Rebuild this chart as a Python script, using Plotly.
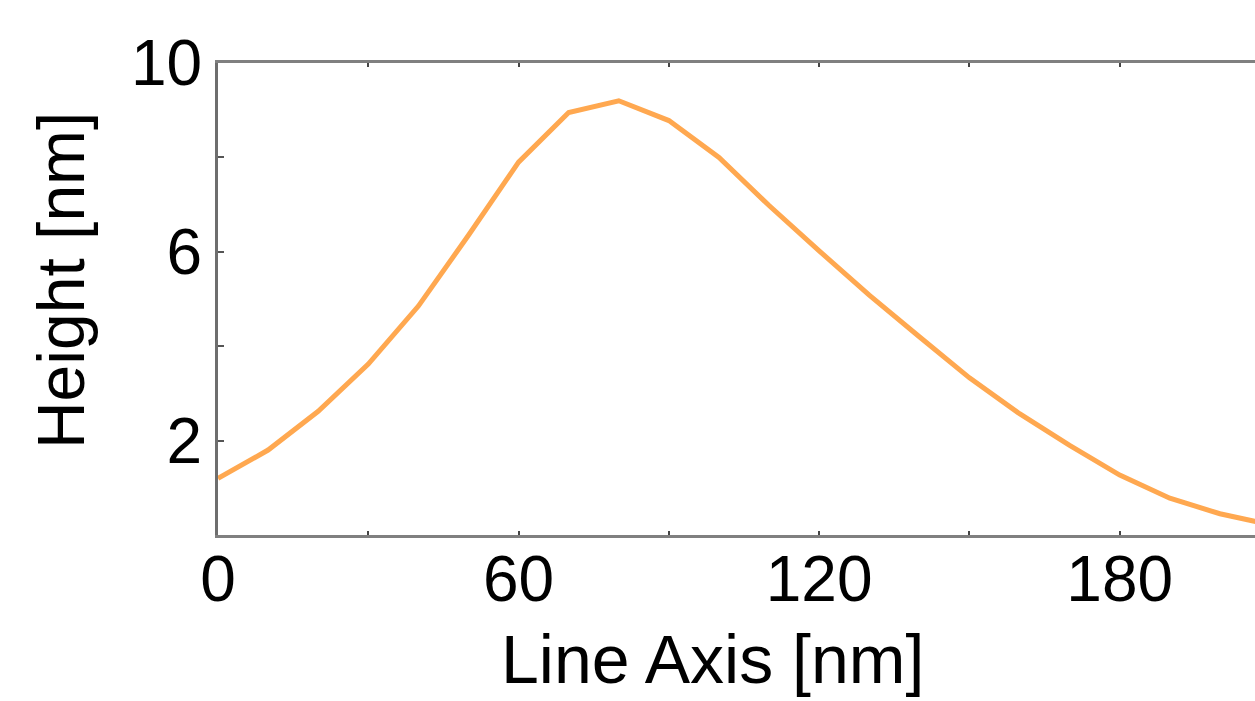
import plotly.graph_objects as go

x_nm = [0, 10, 20, 30, 40, 50, 60, 70, 80, 90, 100, 110, 120, 130, 140, 150, 160, 170, 180, 190, 200, 210]
height_nm = [1.2, 1.8, 2.62, 3.62, 4.85, 6.35, 7.9, 8.95, 9.2, 8.78, 8.0, 6.98, 6.02, 5.08, 4.2, 3.33, 2.57, 1.9, 1.27, 0.78, 0.45, 0.22]

x_tickvals = [0, 30, 60, 90, 120, 150, 180, 210]
x_ticktext = ["0", "", "60", "", "120", "", "180", ""]
y_tickvals = [0, 2, 4, 6, 8, 10]
y_ticktext = ["", "2", "", "6", "", "10"]

fig = go.Figure()
fig.add_trace(go.Scatter(x=x_nm, y=height_nm, mode="lines",
                         line=dict(color="#FFA850", width=5), showlegend=False))

font = "Liberation Sans, Arial, sans-serif"
fig.update_layout(
    width=1255, height=701,
    margin=dict(l=218, r=0, t=63, b=166),
    paper_bgcolor="white", plot_bgcolor="white",
    xaxis=dict(range=[0, 207], tickvals=x_tickvals, ticktext=x_ticktext,
               ticks="inside", ticklen=4, tickwidth=2, tickcolor="#444",
               showline=True, linecolor="#808080", linewidth=2.5, mirror="ticks",
               showgrid=False, zeroline=False, ticklabelstandoff=-14,
               tickfont=dict(family=font, size=64, color="black")),
    yaxis=dict(range=[0, 10], tickvals=y_tickvals, ticktext=y_ticktext,
               ticks="inside", ticklen=6, tickwidth=1.5, tickcolor="#555",
               showline=True, linecolor="#6e6e6e", linewidth=3,
               showgrid=False, zeroline=False,
               tickfont=dict(family=font, size=64, color="black")),
    annotations=[
        dict(text="Line Axis [nm]", xref="paper", yref="paper", x=0.477, y=0,
             xanchor="center", yanchor="middle", yshift=-124, showarrow=False,
             font=dict(family=font, size=68, color="black")),
        dict(text="Height [nm]", xref="paper", yref="paper", x=0, y=0.538,
             xanchor="center", yanchor="middle", xshift=-157, textangle=-90,
             showarrow=False, font=dict(family=font, size=66, color="black")),
    ],
)
fig.write_html("out.html")
